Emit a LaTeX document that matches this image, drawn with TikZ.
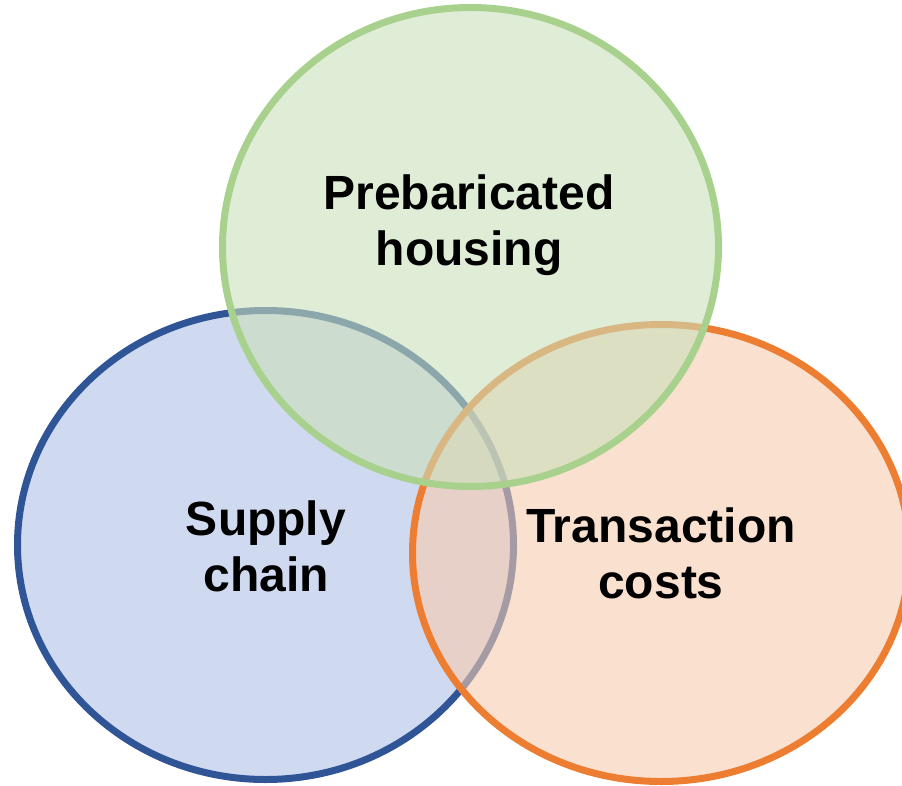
\documentclass[tikz,border=0pt]{standalone}
\usepackage{fontspec}
\setmainfont{Liberation Sans}
\definecolor{blueline}{RGB}{47,85,151}
\definecolor{bluefill}{RGB}{175,192,228}
\definecolor{orangeline}{RGB}{237,125,49}
\definecolor{orangefill}{RGB}{245,203,175}
\definecolor{greenline}{RGB}{169,209,142}
\definecolor{greenfill}{RGB}{202,223,187}
\tikzset{
  setshape/.style={line width=7pt, fill opacity=0.6},
  setlabel/.style={align=center, anchor=base, text=black,
    font=\bfseries\fontsize{48}{56}\selectfont, inner sep=0pt}
}
\begin{document}
\begin{tikzpicture}[x=1pt,y=-1pt]
  \useasboundingbox (0,0) rectangle (902,786);
  \clip (0,0) rectangle (902,786);
  % the three sets, bottom to top
  \draw[setshape, draw=blueline, fill=bluefill] (265.5,545) ellipse [x radius=248, y radius=234.5];
  \draw[setshape, draw=orangeline, fill=orangefill] (661,553) ellipse [x radius=248.5, y radius=228.5];
  \draw[setshape, draw=greenline, fill=greenfill] (470.5,247) ellipse [x radius=248, y radius=239.5];
  % set names (anchored at the baseline of the last line)
  \node[setlabel] (housing) at (469,266) {Prebaricated\\housing};
  \node[setlabel] (supply) at (266,591) {Supply\\chain};
  \node[setlabel] (costs) at (661,598) {Transaction\\costs};
\end{tikzpicture}
\end{document}
